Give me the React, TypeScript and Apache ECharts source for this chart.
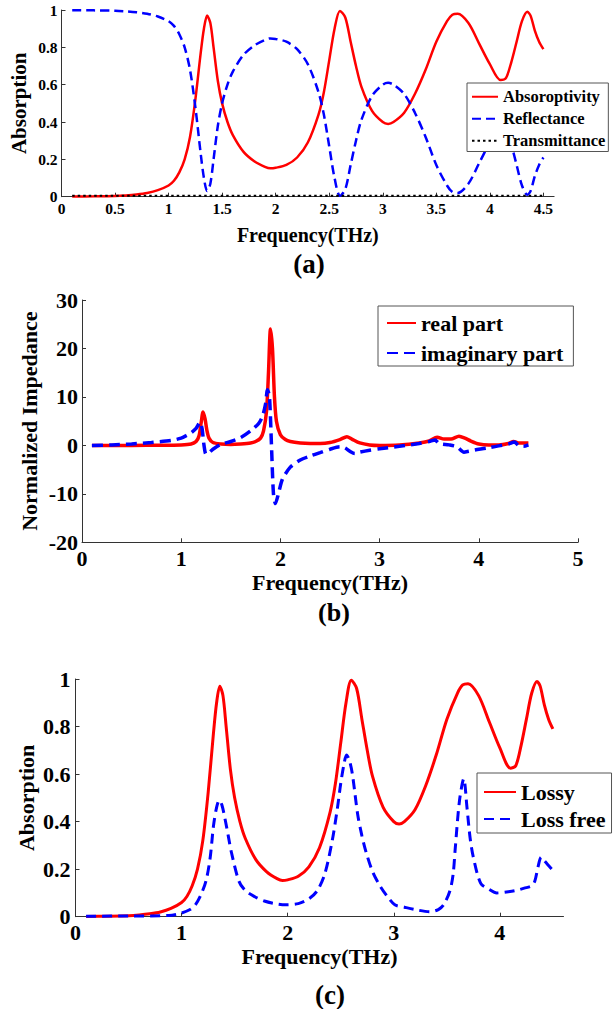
import React, { useEffect, useRef } from "react";
import * as echarts from "echarts";

// ---------- Panel (a) / (c): absorption spectra ----------
const freqA = [0.1, 0.3, 0.5, 0.6, 0.7, 0.8, 0.9, 1.0, 1.05, 1.1,
  1.15, 1.2, 1.25, 1.3, 1.33, 1.36, 1.39, 1.42, 1.46, 1.5,
  1.55, 1.6, 1.7, 1.8, 1.9, 1.95, 2.0, 2.1, 2.2, 2.3,
  2.4, 2.45, 2.5, 2.55, 2.6, 2.65, 2.7, 2.75, 2.8, 2.9,
  3.0, 3.05, 3.1, 3.2, 3.3, 3.4, 3.5, 3.6, 3.65, 3.7,
  3.8, 3.9, 4.0, 4.1, 4.15, 4.2, 4.25, 4.3, 4.35, 4.38,
  4.42, 4.46, 4.5];
const absorptivity = [0.001, 0.002, 0.004, 0.007, 0.012, 0.02, 0.035, 0.06, 0.085, 0.13,
  0.2, 0.32, 0.52, 0.77, 0.9, 0.97, 0.93, 0.8, 0.62, 0.5,
  0.4, 0.33, 0.24, 0.19, 0.16, 0.152, 0.155, 0.17, 0.21, 0.29,
  0.44, 0.56, 0.73, 0.9, 0.995, 0.96, 0.83, 0.7, 0.59, 0.46,
  0.4, 0.39, 0.4, 0.45, 0.55, 0.68, 0.83, 0.94, 0.975, 0.98,
  0.93, 0.82, 0.71, 0.625, 0.635, 0.72, 0.83, 0.94, 0.99, 0.97,
  0.89, 0.83, 0.79];
const reflectance = [0.999, 0.998, 0.996, 0.993, 0.988, 0.98, 0.965, 0.94, 0.915, 0.87,
  0.8, 0.68, 0.48, 0.23, 0.1, 0.03, 0.07, 0.2, 0.38, 0.5,
  0.6, 0.67, 0.76, 0.81, 0.84, 0.848, 0.845, 0.83, 0.79, 0.71,
  0.56, 0.44, 0.27, 0.1, 0.005, 0.04, 0.17, 0.3, 0.41, 0.54,
  0.6, 0.61, 0.6, 0.55, 0.45, 0.32, 0.17, 0.06, 0.025, 0.02,
  0.07, 0.18, 0.29, 0.375, 0.365, 0.28, 0.17, 0.06, 0.01, 0.03,
  0.11, 0.17, 0.21];
const freqT = [0.1, 4.5];
const transmittance = [0.005, 0.005];

const freqC = [0.1, 0.5, 0.88, 0.99, 1.08, 1.13, 1.18, 1.23, 1.27, 1.3,
  1.33, 1.355, 1.38, 1.41, 1.44, 1.47, 1.54, 1.6, 1.69, 1.78,
  1.87, 1.98, 2.1, 2.2, 2.28, 2.35, 2.42, 2.47, 2.5, 2.53,
  2.555, 2.58, 2.61, 2.66, 2.7, 2.74, 2.8, 2.87, 2.94, 3.01,
  3.1, 3.2, 3.34, 3.42, 3.47, 3.53, 3.56, 3.58, 3.62, 3.66,
  3.69, 3.72, 3.75, 3.82, 3.9, 3.97, 4.08, 4.15, 4.23, 4.3,
  4.33, 4.36, 4.39, 4.42, 4.45, 4.49];
const lossFree = [0.002, 0.003, 0.005, 0.014, 0.03, 0.05, 0.09, 0.15, 0.25, 0.38,
  0.46, 0.49, 0.47, 0.41, 0.34, 0.27, 0.15, 0.11, 0.084, 0.066,
  0.056, 0.05, 0.055, 0.075, 0.11, 0.18, 0.32, 0.46, 0.56, 0.64,
  0.68, 0.66, 0.6, 0.43, 0.34, 0.27, 0.19, 0.13, 0.085, 0.05,
  0.04, 0.03, 0.021, 0.03, 0.05, 0.11, 0.18, 0.29, 0.49, 0.58,
  0.46, 0.33, 0.25, 0.14, 0.115, 0.1, 0.105, 0.11, 0.12, 0.13,
  0.15, 0.21, 0.25, 0.235, 0.22, 0.2];

// ---------- Panel (b): normalized impedance ----------
const freqRe = [0.1, 0.5, 0.8, 1.0, 1.1, 1.15, 1.18, 1.2, 1.22, 1.24,
  1.26, 1.28, 1.32, 1.4, 1.5, 1.6, 1.7, 1.75, 1.8, 1.83,
  1.86, 1.88, 1.9, 1.92, 1.94, 1.96, 2.0, 2.05, 2.1, 2.2,
  2.3, 2.4, 2.5, 2.6, 2.67, 2.72, 2.8, 2.9, 3.0, 3.2,
  3.4, 3.5, 3.58, 3.65, 3.72, 3.8, 3.86, 3.92, 4.0, 4.1,
  4.2, 4.3, 4.35, 4.4, 4.5];
const realPart = [0, 0, 0.02, 0.1, 0.3, 0.8, 2, 4.5, 6.9, 5.5,
  3, 1.5, 0.6, 0.3, 0.2, 0.3, 0.5, 0.8, 1.5, 3,
  7, 15, 24, 20, 10, 5, 2.2, 1.2, 0.8, 0.5,
  0.4, 0.4, 0.6, 1.2, 1.8, 1.3, 0.5, 0.1, 0, 0.1,
  0.5, 0.9, 1.7, 1.3, 1.3, 1.9, 1.5, 0.9, 0.3, 0.1,
  0.1, 0.4, 0.8, 0.5, 0.5];
const freqIm = [0.1, 0.3, 0.5, 0.7, 0.9, 1.0, 1.05, 1.1, 1.15, 1.19,
  1.21, 1.23, 1.25, 1.28, 1.32, 1.4, 1.5, 1.6, 1.7, 1.78,
  1.82, 1.85, 1.87, 1.89, 1.91, 1.93, 1.95, 1.98, 2.02, 2.1,
  2.2, 2.3, 2.4, 2.5, 2.6, 2.65, 2.7, 2.75, 2.8, 2.9,
  3.0, 3.2, 3.4, 3.5, 3.56, 3.6, 3.7, 3.78, 3.85, 3.9,
  4.0, 4.1, 4.2, 4.3, 4.36, 4.4, 4.45, 4.5];
const imagPart = [0, 0.1, 0.3, 0.6, 1.0, 1.5, 2.0, 2.6, 3.5, 4.8,
  3.5, 0, -1.8, -1.5, -0.8, 0.2, 0.8, 1.6, 3.0, 4.5,
  6.0, 8.5, 11.5, 10, 0, -10, -12, -10, -7, -4.5,
  -3, -2.2, -1.5, -0.8, -0.3, -0.5, -1.2, -1.7, -1.4, -1.0,
  -0.7, -0.2, 0.4, 0.8, 1.1, 0.4, 0.1, -0.3, -1.4, -1.2,
  -0.8, -0.5, -0.1, 0.3, 0.7, 0, -0.2, 0.1];

const namesA = ["Absoroptivity", "Reflectance", "Transmittance"];
const namesB = ["real part", "imaginary part"];
const namesC = ["Lossy", "Loss free"];
const panelLabels = ["(a)", "(b)", "(c)"];

const FONT = "Liberation Serif, Times New Roman, serif";
const RED = "#ff0000";
const BLUE = "#0000ff";

const zip = (xs: number[], ys: number[]) => xs.map((x, i) => [x, ys[i]]);

function xAxisCfg(gridIndex: number, max: number, interval: number, fontSize: number, nameSize: number, nameGap: number, margin: number) {
  return {
    type: "value", gridIndex, min: 0, max, interval,
    name: "Frequency(THz)", nameLocation: "middle", nameGap, nameMoveOverlap: false,
    nameTextStyle: { fontFamily: FONT, fontWeight: "bold", fontSize: nameSize, color: "#000" },
    axisLine: { show: true, onZero: false, lineStyle: { color: "#333", width: 1 } },
    axisTick: { show: true, inside: true, length: 4, lineStyle: { color: "#333" } },
    axisLabel: { fontFamily: FONT, fontWeight: "bold", fontSize, color: "#000", margin, showMaxLabel: max % interval === 0 },
    splitLine: { show: false },
  };
}
function yAxisCfg(gridIndex: number, min: number, max: number, interval: number, name: string, fontSize: number, nameSize: number, nameGap: number, margin: number) {
  return {
    type: "value", gridIndex, min, max, interval,
    name, nameLocation: "middle", nameGap, nameMoveOverlap: false,
    nameTextStyle: { fontFamily: FONT, fontWeight: "bold", fontSize: nameSize, color: "#000" },
    axisLine: { show: true, onZero: false, lineStyle: { color: "#333", width: 1 } },
    axisTick: { show: true, inside: true, length: 4, lineStyle: { color: "#333" } },
    axisLabel: { fontFamily: FONT, fontWeight: "bold", fontSize, color: "#000", margin },
    splitLine: { show: false },
  };
}
function legendCfg(data: string[], left: number, top: number, fontSize: number, itemWidth: number, itemHeight: number, itemGap: number, padding: number[]) {
  return {
    data, left, top, orient: "vertical", itemWidth, itemHeight, itemGap, padding,
    borderColor: "#555", borderWidth: 1, borderRadius: 0, backgroundColor: "#fff",
    itemStyle: { color: "rgba(0,0,0,0)", borderWidth: 0, opacity: 0 },
    textStyle: { fontFamily: FONT, fontWeight: "bold", fontSize, color: "#000", lineHeight: fontSize + 2 },
  };
}
function lineSeries(name: string, xi: number, data: number[][], color: string, width: number, type: any, smooth: number) {
  return {
    name, type: "line", xAxisIndex: xi, yAxisIndex: xi, data, showSymbol: false, symbol: "none",
    smooth, lineStyle: { color, width, type }, itemStyle: { color }, z: 3,
  };
}

export default function App() {
  const ref = useRef<HTMLDivElement>(null);
  useEffect(() => {
    document.body.style.margin = "0";
    const chart = echarts.init(ref.current!, undefined, { renderer: "svg" });
    chart.setOption({
      animation: false,
      backgroundColor: "#fff",
      grid: [
        { left: 60.5, top: 10, width: 493.6, height: 186.7 },
        { left: 82, top: 300, width: 496, height: 242.3 },
        { left: 75.5, top: 679, width: 488, height: 237.7 },
      ],
      xAxis: [
        xAxisCfg(0, 4.6, 0.5, 15.5, 20, 28, 4),
        xAxisCfg(1, 5, 1, 22, 22, 29.5, 5),
        xAxisCfg(2, 4.6, 1, 22, 22, 29, 5),
      ],
      yAxis: [
        yAxisCfg(0, 0, 1, 0.2, "Absorption", 15.5, 21, 32.5, 4),
        yAxisCfg(1, -20, 30, 10, "Normalized Impedance", 22, 22, 42, 4),
        yAxisCfg(2, 0, 1, 0.2, "Absorption", 22, 22, 38, 5),
      ],
      legend: [
        legendCfg(namesA, 467, 83, 16.5, 26, 14, 3.5, [4.5, 3, 1.5, 4]),
        legendCfg(namesB, 378, 306, 22, 29, 18, 6, [5, 10, 1, 8]),
        legendCfg(namesC, 477, 773, 22, 32, 18, 3, [7, 6, 2, 6]),
      ],
      series: [
        lineSeries(namesA[0], 0, zip(freqA, absorptivity), RED, 2.5, "solid", 0.3),
        lineSeries(namesA[1], 0, zip(freqA, reflectance), BLUE, 2.5, [9, 5], 0.3),
        lineSeries(namesA[2], 0, zip(freqT, transmittance), "#000", 2, [2.5, 3], 0),
        lineSeries(namesB[0], 1, zip(freqRe, realPart), RED, 3.5, "solid", 0.25),
        lineSeries(namesB[1], 1, zip(freqIm, imagPart), BLUE, 3.5, [11, 6], 0.25),
        lineSeries(namesC[0], 2, zip(freqA, absorptivity), RED, 3, "solid", 0.3),
        lineSeries(namesC[1], 2, zip(freqC, lossFree), BLUE, 3, [10, 6], 0.3),
      ],
      graphic: [
        { type: "text", x: 309, y: 264, style: { text: panelLabels[0], font: `bold 27px ${FONT}`, fill: "#000", align: "center", verticalAlign: "middle" } },
        { type: "text", x: 334, y: 612, style: { text: panelLabels[1], font: `bold 26px ${FONT}`, fill: "#000", align: "center", verticalAlign: "middle" } },
        { type: "text", x: 330, y: 995, style: { text: panelLabels[2], font: `bold 27px ${FONT}`, fill: "#000", align: "center", verticalAlign: "middle" } },
      ],
    });
    return () => chart.dispose();
  }, []);
  return <div ref={ref} style={{ position: "absolute", left: 0, top: 0, width: 613, height: 1009 }} />;
}
